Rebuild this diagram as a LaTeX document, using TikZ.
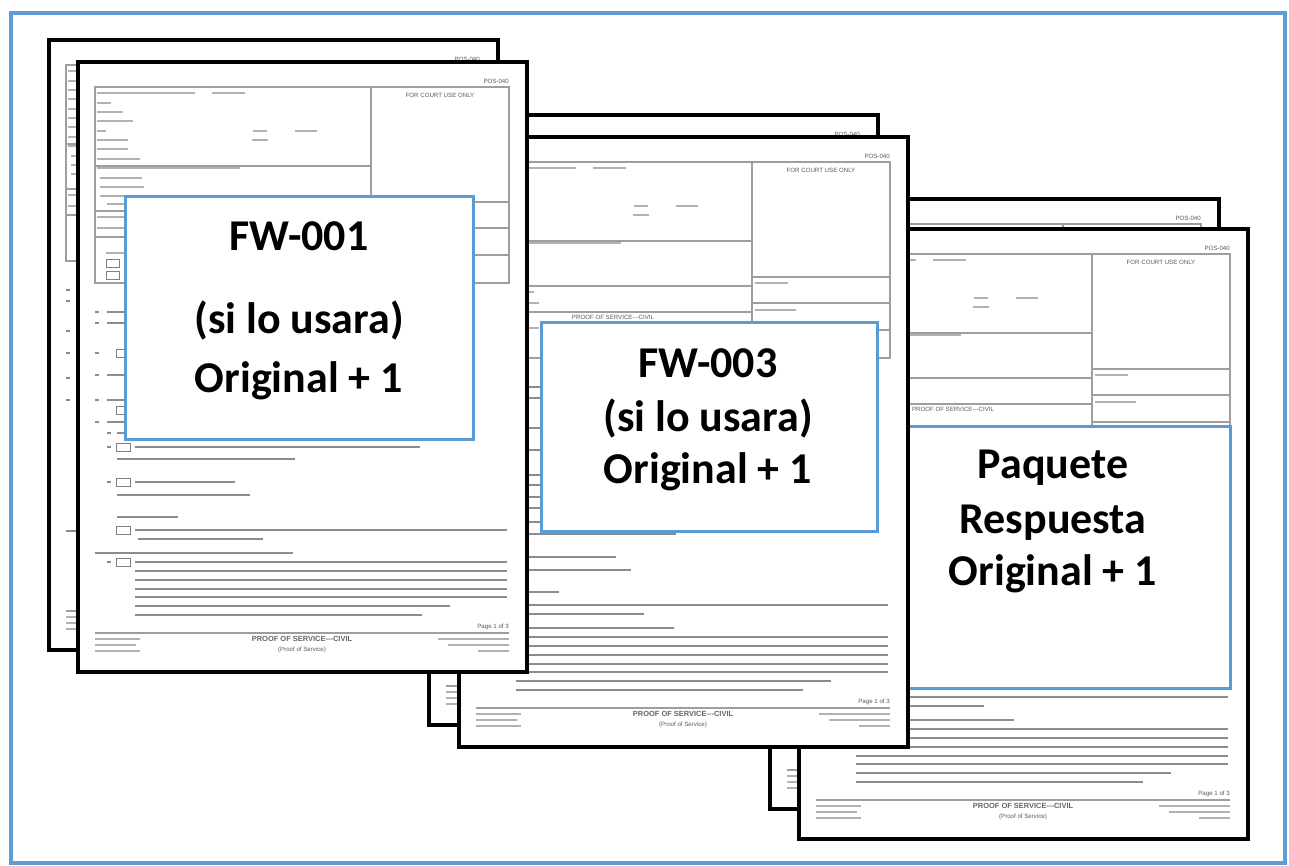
\documentclass[tikz,border=0pt]{standalone}
\usepackage{fontspec}
\setmainfont{Carlito}
\newfontfamily\formfont{Liberation Sans}
\definecolor{boxblue}{RGB}{91,155,213}
\definecolor{frameblue}{RGB}{96,156,212}
\tikzset{
  pagebox/.style={draw=black, line width=2.6pt},
  formline/.style={draw=black!38, line width=0.9pt},
  hbar/.style={draw=black!30, line width=1.1pt},
  tbar/.style={draw=black!45, line width=1.5pt},
  chk/.style={draw=black!50, line width=0.7pt},
  formtxt/.style={font=\formfont\fontsize{4.6}{5}\selectfont, text=black!65, inner sep=0pt},
  formhead/.style={font=\formfont\bfseries\fontsize{5.6}{6}\selectfont, text=black!60, inner sep=0pt},
  bluebox/.style={draw=boxblue, fill=white, line width=2.3pt},
  lbl/.style={font=\fontsize{33}{38}\selectfont\bfseries, anchor=base, inner sep=0pt},
}
\newcommand\formpage[4]{%
 \begin{scope}[shift={(#1,#2)}]
  \fill[white] (0,0) rectangle (449,610);
  % header grid
  \draw[formline] (17,25) rectangle (431,221);
  \draw[formline] (293,25) -- (293,221);
  \draw[formline] (17,104) -- (293,104);
  \draw[formline] (17,149) -- (293,149);
  \draw[formline] (17,175) -- (293,175);
  \draw[formline] (293,140) -- (431,140);
  \draw[formline] (293,166) -- (431,166);
  \draw[formline] (293,193) -- (431,193);
  \foreach \a/\b/\c in {19/117/31,134/167/31,19/33/41,19/45/50,19/55/59,19/28/69,175/189/69,217/239/69,
     19/50/78,174/190/78,19/50/87,19/62/97,19/162/106,22/64/116,22/66/125,22/70/134,29/47/142,
     19/75/155,19/80/166,28/80/191,296/329/146,296/337/173}
     {\draw[hbar] (\a,\c) -- (\b,\c);}
  \draw[chk] (28,197) rectangle (41,205);
  \draw[chk] (28,209) rectangle (41,217);
  \node[formtxt, anchor=east] (#3pos) at (431,19) {POS-040};
  \node[formtxt] (#3cu) at (362,33) {FOR COURT USE ONLY};
  \ifnum#4=1
    \node[formtxt] (#3ti) at (154,180) {PROOF OF SERVICE---CIVIL};
  \else
    \draw[hbar] (104,180) -- (204,180);
  \fi
  % body
  \foreach \a/\b/\c in {17/21/250,29/300/250,17/21/261,29/250/261,17/21/291,47/200/291,17/21/313,29/120/313,
     17/21/338,29/260/338,47/180/348,17/21/360,29/310/360,29/33/371,39/200/371,29/33/385,57/342/385,
     39/217/397,29/33/420,57/157/420,39/172/433,39/100/455,57/429/468,60/185/477,17/215/491,
     29/33/500,57/429/500,57/429/509,57/429/518,57/429/527,57/429/535,57/372/544,57/344/553}
     {\draw[tbar] (\a,\c) -- (\b,\c);}
  \foreach \c in {291,348,385,420,468,500}{\draw[chk] (38,\c-4) rectangle (52,\c+4);}
  % footer
  \draw[formline] (17,571) -- (431,571);
  \foreach \a/\b/\c in {17/62/577,17/58/583,17/62/589,360/431/577,370/431/583,400/431/589}
     {\draw[hbar] (\a,\c) -- (\b,\c);}
  \node[formtxt, anchor=east] (#3pg) at (431,565) {Page 1 of 3};
  \node[formhead] (#3ft) at (224,577) {PROOF OF SERVICE---CIVIL};
  \node[formtxt] (#3fs) at (224,588) {(Proof of Service)};
  \draw[pagebox] (0,0) rectangle (449,610);
 \end{scope}}
\begin{document}
\begin{tikzpicture}[x=0.75pt,y=-0.75pt]
\useasboundingbox (0,0) rectangle (1289,865);
\fill[white] (0,0) rectangle (1289,865);
% right group
\formpage{770}{199}{r1}{1}
\formpage{799}{229}{r2}{1}
\node[bluebox, anchor=north west, minimum width=352*0.75pt, minimum height=262*0.75pt] (boxC) at (877,425) {};
\node[lbl] (c1) at (1053,478) {Paquete};
\node[lbl] (c2) at (1053,533) {Respuesta};
\node[lbl] (c3) at (1053,585) {Original + 1};
% middle group
\formpage{429}{115}{m1}{1}
\formpage{459}{137}{m2}{1}
\node[bluebox, anchor=north west, minimum width=336*0.75pt, minimum height=209*0.75pt] (boxB) at (540,321) {};
\node[lbl] (b1) at (708,377) {FW-003};
\node[lbl] (b2) at (708,431) {(si lo usara)};
\node[lbl] (b3) at (708,483) {Original + 1};
% left group
\formpage{49}{40}{l1}{0}
\formpage{78}{62}{l2}{0}
\node[bluebox, anchor=north west, minimum width=348*0.75pt, minimum height=243*0.75pt] (boxA) at (124,195) {};
\node[lbl] (a1) at (299,250) {FW-001};
\node[lbl] (a2) at (299,333) {(si lo usara)};
\node[lbl] (a3) at (299,392) {Original + 1};
% outer frame
\draw[frameblue, line width=3pt] (11,13) rectangle (1285,863);
\end{tikzpicture}
\end{document}
